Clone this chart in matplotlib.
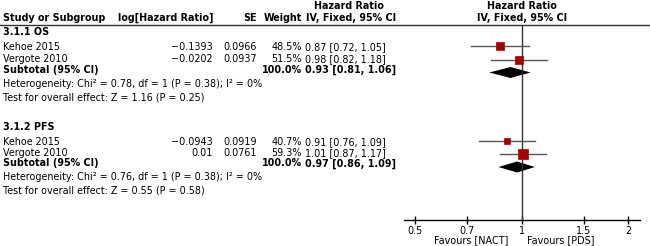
import numpy as np
import matplotlib
matplotlib.use('Agg')
import matplotlib.pyplot as plt

# OS subgroup
studies_os = ['Kehoe 2015', 'Vergote 2010']
loghr_os = ['\u22120.1393', '\u22120.0202']
se_os = ['0.0966', '0.0937']
weight_os = [48.5, 51.5]
hr_os = [0.87, 0.98]
lo_os = [0.72, 0.82]
hi_os = [1.05, 1.18]
sub_os = [0.93, 0.81, 1.06]
het_os = 'Heterogeneity: Chi\u00b2 = 0.78, df = 1 (P = 0.38); I\u00b2 = 0%'
test_os = 'Test for overall effect: Z = 1.16 (P = 0.25)'

# PFS subgroup
studies_pfs = ['Kehoe 2015', 'Vergote 2010']
loghr_pfs = ['\u22120.0943', '0.01']
se_pfs = ['0.0919', '0.0761']
weight_pfs = [40.7, 59.3]
hr_pfs = [0.91, 1.01]
lo_pfs = [0.76, 0.87]
hi_pfs = [1.09, 1.17]
sub_pfs = [0.97, 0.86, 1.09]
het_pfs = 'Heterogeneity: Chi\u00b2 = 0.76, df = 1 (P = 0.38); I\u00b2 = 0%'
test_pfs = 'Test for overall effect: Z = 0.55 (P = 0.58)'

ticks = [0.5, 0.7, 1, 1.5, 2]
tick_labels = ['0.5', '0.7', '1', '1.5', '2']

W, H = 650, 246
fs = 6.9
red = '#a30000'

fig = plt.figure(figsize=(W / 100, H / 100), dpi=100)
fig.patch.set_facecolor('white')

# text layer in pixel coordinates
ax = fig.add_axes([0, 0, 1, 1])
ax.set_xlim(0, W)
ax.set_ylim(H, 0)
ax.axis('off')

# forest layer, log scale
fx0, fx1 = 404, 640
fa = fig.add_axes([fx0 / W, 0, (fx1 - fx0) / W, 1])
fa.set_xscale('log')
fa.set_xlim(0.465, 2.16)
fa.set_ylim(H, 0)
fa.patch.set_alpha(0)
for s in ['top', 'left', 'right']:
    fa.spines[s].set_visible(False)
fa.spines['bottom'].set_position(('data', 220))
fa.spines['bottom'].set_linewidth(1)
fa.set_yticks([])
fa.set_xticks(ticks)
fa.set_xticklabels(tick_labels)
fa.xaxis.set_minor_locator(matplotlib.ticker.NullLocator())
fa.tick_params(axis='x', direction='inout', length=6, width=1, pad=1.5, labelsize=fs)

# headers
ax.text(349, 6, 'Hazard Ratio', ha='center', va='center', fontsize=fs, fontweight='bold')
ax.text(521.7, 6, 'Hazard Ratio', ha='center', va='center', fontsize=fs, fontweight='bold')
hy = 18
ax.text(3, hy, 'Study or Subgroup', ha='left', va='center', fontsize=fs, fontweight='bold')
ax.text(213, hy, 'log[Hazard Ratio]', ha='right', va='center', fontsize=fs, fontweight='bold')
ax.text(257, hy, 'SE', ha='right', va='center', fontsize=fs, fontweight='bold')
ax.text(302, hy, 'Weight', ha='right', va='center', fontsize=fs, fontweight='bold')
ax.text(351, hy, 'IV, Fixed, 95% CI', ha='center', va='center', fontsize=fs, fontweight='bold')
ax.text(521.7, hy, 'IV, Fixed, 95% CI', ha='center', va='center', fontsize=fs, fontweight='bold')
ax.plot([0, W], [25, 25], color='#333333', lw=1)

fa.vlines(1, 25, 220, color='#333333', lw=1)


def group(title, y0, studies, loghr, se, weight, hr, lo, hi, sub, het, test, rows, trows):
    ax.text(3, y0, title, ha='left', va='center', fontsize=fs, fontweight='bold')
    for i in range(len(studies)):
        ty = trows[i]
        ax.text(3, ty, studies[i], ha='left', va='center', fontsize=fs)
        ax.text(213, ty, loghr[i], ha='right', va='center', fontsize=fs)
        ax.text(257, ty, se[i], ha='right', va='center', fontsize=fs)
        ax.text(302, ty, '%.1f%%' % weight[i], ha='right', va='center', fontsize=fs)
        ax.text(305, ty, '%.2f [%.2f, %.2f]' % (hr[i], lo[i], hi[i]), ha='left', va='center', fontsize=fs)
        fa.plot([lo[i], hi[i]], [rows[i], rows[i]], color='#555555', lw=1)
        side = 0.16 * weight[i] * 0.72
        fa.plot(hr[i], rows[i], marker='s', ms=side, color=red, mec=red, mew=0.5)
    sy = trows[-1] + 10.5
    ax.text(3, sy, 'Subtotal (95% CI)', ha='left', va='center', fontsize=fs, fontweight='bold')
    ax.text(302, sy, '100.0%', ha='right', va='center', fontsize=fs, fontweight='bold')
    ax.text(305, sy, '%.2f [%.2f, %.2f]' % tuple(sub), ha='left', va='center', fontsize=fs, fontweight='bold')
    dy = rows[-1] + 13
    fa.fill([sub[1], sub[0], sub[2], sub[0]], [dy, dy - 5.5, dy, dy + 5.5], color='black', lw=0)
    ax.text(3, sy + 14, het, ha='left', va='center', fontsize=fs)
    ax.text(3, sy + 27, test, ha='left', va='center', fontsize=fs)


group('3.1.1 OS', 32, studies_os, loghr_os, se_os, weight_os, hr_os, lo_os, hi_os,
      sub_os, het_os, test_os, [46, 59.5], [47.5, 59.5])
group('3.1.2 PFS', 127.5, studies_pfs, loghr_pfs, se_pfs, weight_pfs, hr_pfs, lo_pfs, hi_pfs,
      sub_pfs, het_pfs, test_pfs, [140.7, 154], [142, 153])

ax.text(508, 240, 'Favours [NACT]', ha='right', va='center', fontsize=fs)
ax.text(527, 240, 'Favours [PDS]', ha='left', va='center', fontsize=fs)

fig.savefig('out.png', dpi=100)
